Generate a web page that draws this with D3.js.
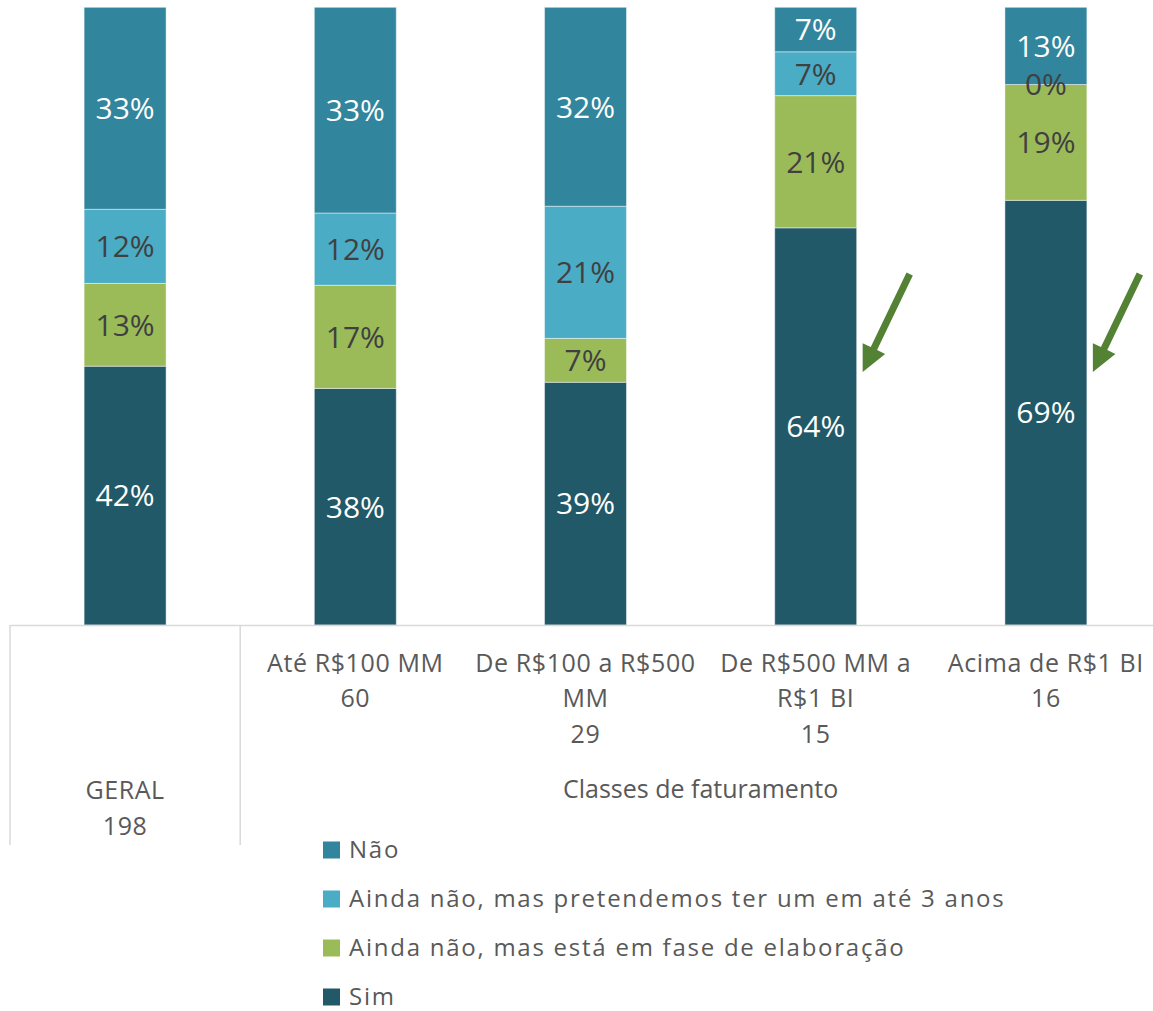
<!DOCTYPE html>
<html>
<head>
<meta charset="utf-8">
<script src="https://cdn.jsdelivr.net/npm/d3@7"></script>
<style>
  html, body { margin: 0; padding: 0; background: #fff; }
  svg { display: block; font-family: "Open Sans", "Noto Sans", sans-serif; }
</style>
</head>
<body>
<svg id="chart" width="1153" height="1011"></svg>
<script>
// ---- data ----
const categories = ["GERAL", "Até R$100 MM", "De R$100 a R$500 MM", "De R$500 MM a R$1 BI", "Acima de R$1 BI"];
const categoryLines = [
  ["GERAL", "198"],
  ["Até R$100 MM", "60"],
  ["De R$100 a R$500", "MM", "29"],
  ["De R$500 MM a", "R$1 BI", "15"],
  ["Acima de R$1 BI", "16"]
];
const groupLabel = "Classes de faturamento";
const seriesNames = ["Sim", "Ainda não, mas está em fase de elaboração", "Ainda não, mas pretendemos ter um em até 3 anos", "Não"];
const sim        = [41.9, 38.3, 39.3, 64.3, 68.75];
const elaboracao = [13.4, 16.7, 7.1, 21.4, 18.75];
const pretendem  = [12.0, 11.7, 21.4, 7.1, 0.0];
const nao        = [32.7, 33.3, 32.2, 7.2, 12.5];
const highlighted = [3, 4]; // categories marked with arrows

// ---- styles ----
const colors = ["#215968", "#9BBB59", "#4BACC6", "#31859C"];
const labelColors = ["#ffffff", "#404040", "#404040", "#ffffff"];
const textGray = "#595959";

const svg = d3.select("#chart");
const seriesValues = [sim, elaboracao, pretendem, nao];

const rows = categories.map((c, i) => {
  const r = { cat: c };
  seriesNames.forEach((s, k) => r[s] = seriesValues[k][i]);
  return r;
});
const stacked = d3.stack().keys(seriesNames)(rows);

const x = d3.scaleBand().domain(categories).range([10, 1161]).paddingInner(0.644).paddingOuter(0.322);
const y = d3.scaleLinear().domain([0, 100]).range([625, 7.3]);

// bars
const layer = svg.append("g").selectAll("g").data(stacked).join("g")
  .attr("fill", (d, i) => colors[i]);
layer.selectAll("rect").data(d => d).join("rect")
  .attr("x", d => x(d.data.cat))
  .attr("width", x.bandwidth())
  .attr("y", d => y(d[1]))
  .attr("height", d => Math.max(0, y(d[0]) - y(d[1])))
  .attr("stroke", "rgba(255,255,255,0.45)")
  .attr("stroke-width", 1);

// data labels
const fmt = v => Math.round(v) + "%";
stacked.forEach((s, k) => {
  svg.append("g").selectAll("text").data(s).join("text")
    .attr("x", d => x(d.data.cat) + x.bandwidth() / 2)
    .attr("y", d => (y(d[0]) + y(d[1])) / 2 + 10.8)
    .attr("text-anchor", "middle")
    .attr("font-size", 30)
    .attr("fill", labelColors[k])
    .text(d => fmt(d[1] - d[0]));
});

// axis line and category separators
const axisColor = "#d9d9d9";
svg.append("line").attr("x1", 10).attr("x2", 1153).attr("y1", y(0) + 0.5).attr("y2", y(0) + 0.5)
  .attr("stroke", axisColor).attr("stroke-width", 1.5);
const sepX = [x.range()[0], x(categories[1]) - x.step() * x.paddingInner() / 2];
sepX.forEach(sx => {
  svg.append("line").attr("x1", sx).attr("x2", sx).attr("y1", y(0)).attr("y2", 845)
    .attr("stroke", axisColor).attr("stroke-width", 1.5);
});

// category labels
categoryLines.forEach((lines, i) => {
  const cx = x(categories[i]) + x.bandwidth() / 2;
  const y0 = i === 0 ? 799 : 671.5;
  const t = svg.append("text").attr("text-anchor", "middle").attr("font-size", 25)
    .attr("letter-spacing", 0.6).attr("fill", textGray);
  lines.forEach((ln, j) => {
    t.append("tspan").attr("x", cx).attr("y", y0 + j * 35.5).text(ln);
  });
});
// group label
svg.append("text")
  .attr("x", (sepX[1] + x.range()[1]) / 2)
  .attr("y", 798)
  .attr("text-anchor", "middle").attr("font-size", 25).attr("fill", textGray)
  .text(groupLabel);

// arrows
highlighted.forEach(i => {
  const tipX = x(categories[i]) + x.bandwidth() + 6;
  const tipY = 372;
  const tailX = tipX + 47, tailY = 274;
  const ang = Math.atan2(tipY - tailY, tipX - tailX);
  const len = Math.hypot(tipX - tailX, tipY - tailY);
  const hw = 3.5, headL = 26, headW = 12.5;
  const pts = [
    [0, -hw], [len - headL, -hw], [len - headL, -headW], [len, 0],
    [len - headL, headW], [len - headL, hw], [0, hw]
  ];
  svg.append("polygon")
    .attr("points", pts.map(p => p.join(",")).join(" "))
    .attr("transform", `translate(${tailX},${tailY}) rotate(${ang * 180 / Math.PI})`)
    .attr("fill", "#548235");
});

// legend
const legendOrder = [3, 2, 1, 0];
const lg = svg.append("g");
legendOrder.forEach((k, j) => {
  const cy = 850 + j * 49;
  lg.append("rect").attr("x", 323).attr("y", cy - 8.5).attr("width", 17).attr("height", 17)
    .attr("fill", colors[k]);
  lg.append("text").attr("x", 349).attr("y", cy + 8).attr("font-size", 24)
    .attr("letter-spacing", 1.75).attr("fill", textGray).text(seriesNames[k]);
});
</script>
</body>
</html>
